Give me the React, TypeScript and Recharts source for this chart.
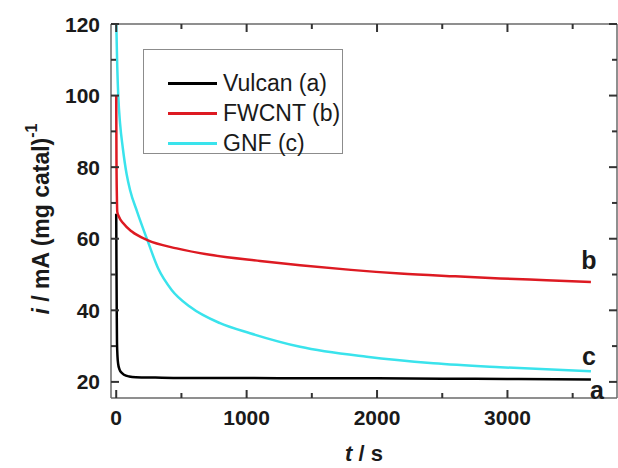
import React from 'react';
import { LineChart, Line, XAxis, YAxis, Legend, Label, LabelList } from 'recharts';

// chronoamperometry curves
const vulcanT = [0, 2, 4, 6, 10, 15, 25, 40, 60, 100, 150, 300, 500, 1000, 1500, 2000, 2500, 3000, 3640];
const vulcanI = [67, 52, 40, 31, 27, 25, 23.5, 22.6, 22, 21.5, 21.3, 21.2, 21.1, 21.1, 21.0, 21.0, 20.9, 20.8, 20.7];

const fwcntT = [0, 2, 5, 8, 20, 54, 120, 239, 464, 719, 1103, 1410, 1800, 2177, 2600, 2944, 3300, 3640];
const fwcntI = [100, 82, 72, 67.5, 66.2, 64.3, 62.0, 59.6, 57.3, 55.5, 53.8, 52.6, 51.3, 50.3, 49.5, 48.9, 48.4, 47.9];

const gnfT = [0, 8, 16, 30, 50, 80, 106, 160, 239, 323, 425, 566, 796, 1026, 1410, 1921, 2432, 2944, 3640];
const gnfI = [121, 108, 99.7, 92, 85.5, 78, 73.6, 67.6, 59.6, 51.6, 45.7, 41.0, 36.4, 33.6, 29.8, 27, 25.2, 24.1, 23.0];

const seriesNames = ['Vulcan (a)', 'FWCNT (b)', 'GNF (c)'];

const xTicks = [0, 500, 1000, 1500, 2000, 2500, 3000, 3500];
const yTicks = [20, 30, 40, 50, 60, 70, 80, 90, 100, 110, 120];

const toPoints = (ts: number[], vs: number[]) => ts.map((t, i) => ({ t, v: vs[i] }));

const vulcan = toPoints(vulcanT, vulcanI);
const fwcnt = toPoints(fwcntT, fwcntI);
const gnf = toPoints(gnfT, gnfI);

const FONT = '"Liberation Sans", Arial, sans-serif';
const FRAME = '#6a6a6a';
const TICK = '#333333';
const INK = '#1a1a1a';

const labelStyle = { fontFamily: FONT, fontSize: 21, fontWeight: 700, fill: INK };

// inward ticks, long at labelled values; props.x / props.y sit on the axis line (tickSize 0, tickMargin 0)
const makeTick = (side: 'left' | 'right' | 'top' | 'bottom', step: number, withLabel: boolean) => (props: any) => {
  const x = Number(props.x);
  const y = Number(props.y);
  const v = props.payload.value;
  const major = v % step === 0;
  const len = major ? 8 : 5;
  let d = '';
  if (side === 'left') d = `M${x},${y}H${x + len}`;
  else if (side === 'right') d = `M${x},${y}H${x - len}`;
  else if (side === 'bottom') d = `M${x},${y}V${y - len}`;
  else d = `M${x},${y}V${y + len}`;
  return (
    <g>
      <path d={d} stroke={TICK} strokeWidth={2} fill="none" />
      {withLabel && major && side === 'left' && (
        <text x={x - 11} y={y} textAnchor="end" dominantBaseline="central" style={labelStyle}>{v}</text>
      )}
      {withLabel && major && side === 'bottom' && (
        <text x={x} y={y + 27} textAnchor="middle" style={labelStyle}>{v}</text>
      )}
    </g>
  );
};

const LegendBox = (props: any) => {
  const { payload = [] } = props;
  const items = seriesNames.map((n) => payload.find((p: any) => p.value === n)).filter(Boolean);
  return (
    <div
      style={{
        width: 200,
        height: 105,
        boxSizing: 'border-box',
        border: '1.5px solid #8c8c8c',
        background: '#fff',
        position: 'relative',
      }}
    >
      {items.map((entry: any, i: number) => (
        <div
          key={entry.value}
          style={{
            position: 'absolute',
            left: 24,
            top: 33 + i * 30 - 14,
            height: 28,
            display: 'flex',
            alignItems: 'center',
          }}
        >
          <span style={{ display: 'inline-block', width: 49, height: 3, background: entry.color, marginRight: 6 }} />
          <span style={{ fontFamily: FONT, fontSize: 23, color: INK, whiteSpace: 'nowrap' }}>{entry.value}</span>
        </div>
      ))}
    </div>
  );
};

// letter drawn next to the last point of a curve
const endLabel = (letter: string, count: number, dx: number, dy: number) => (props: any) => {
  const { x, y, index } = props;
  if (index !== count - 1) return null;
  return (
    <text x={x + dx} y={y + dy} textAnchor="middle" dominantBaseline="central"
      style={{ fontFamily: FONT, fontSize: 25, fontWeight: 700, fill: INK }}>
      {letter}
    </text>
  );
};

const axisLine = { stroke: FRAME, strokeWidth: 1.5 };

export default function App() {
  return (
    <div style={{ position: 'absolute', left: 0, top: 0, width: 618, height: 468, background: '#fff' }}>
      <LineChart width={618} height={468} margin={{ top: 23, right: 0, bottom: 0, left: 0 }}>
        <XAxis
          type="number"
          dataKey="t"
          domain={[-40, 3840]}
          allowDataOverflow
          ticks={xTicks}
          interval={0}
          tick={makeTick('bottom', 1000, true)}
          tickLine={false}
          tickSize={0}
          tickMargin={0}
          height={70}
          axisLine={axisLine}
        >
          <Label
            content={(p: any) => {
              const vb = p.viewBox;
              return (
                <text x={vb.x + vb.width / 2} y={vb.y + 63} textAnchor="middle"
                  style={{ fontFamily: FONT, fontSize: 22, fontWeight: 700, fill: INK }}>
                  <tspan fontStyle="italic">t</tspan>
                  <tspan> / s</tspan>
                </text>
              );
            }}
          />
        </XAxis>
        {/* mirror axes for the closed frame; a zero-sized axis is not drawn, so they get 1px */}
        <XAxis
          xAxisId="top"
          orientation="top"
          type="number"
          dataKey="t"
          domain={[-40, 3840]}
          allowDataOverflow
          ticks={xTicks}
          interval={0}
          tick={makeTick('top', 1000, false)}
          tickLine={false}
          tickSize={0}
          tickMargin={0}
          height={1}
          axisLine={axisLine}
        />
        <YAxis
          type="number"
          domain={[15.5, 120]}
          allowDataOverflow
          ticks={yTicks}
          interval={0}
          tick={makeTick('left', 20, true)}
          tickLine={false}
          tickSize={0}
          tickMargin={0}
          width={111}
          axisLine={axisLine}
        >
          <Label
            content={(p: any) => {
              const vb = p.viewBox;
              const cx = vb.x + 41;
              const cy = vb.y + vb.height / 2 + 8;
              return (
                <text x={cx} y={cy} textAnchor="middle" dominantBaseline="central"
                  transform={`rotate(-90, ${cx}, ${cy})`}
                  style={{ fontFamily: FONT, fontSize: 23, fontWeight: 700, fill: INK }}>
                  <tspan fontStyle="italic">i</tspan>
                  <tspan> / mA (mg catal)</tspan>
                  <tspan fontSize={16} dy={-10}>-1</tspan>
                </text>
              );
            }}
          />
        </YAxis>
        <YAxis
          yAxisId="right"
          orientation="right"
          type="number"
          domain={[15.5, 120]}
          allowDataOverflow
          ticks={yTicks}
          interval={0}
          tick={makeTick('right', 20, false)}
          tickLine={false}
          tickSize={0}
          tickMargin={0}
          width={1}
          axisLine={axisLine}
        />
        <Legend
          layout="vertical"
          align="center"
          verticalAlign="middle"
          content={<LegendBox />}
          wrapperStyle={{ left: 143, top: 49, width: 200, height: 105 }}
        />
        <Line data={vulcan} dataKey="v" name="Vulcan (a)" type="monotone" stroke="#000000" strokeWidth={2.5}
          xAxisId="top" yAxisId="right" dot={false} isAnimationActive={false}>
          <LabelList dataKey="v" content={endLabel('a', vulcan.length, 6, 11)} />
        </Line>
        <Line data={gnf} dataKey="v" name="GNF (c)" type="monotone" stroke="#3ae3ec" strokeWidth={2.5}
          dot={false} isAnimationActive={false}>
          <LabelList dataKey="v" content={endLabel('c', gnf.length, -2, -15)} />
        </Line>
        <Line data={fwcnt} dataKey="v" name="FWCNT (b)" type="monotone" stroke="#dd1a22" strokeWidth={2.5}
          dot={false} isAnimationActive={false}>
          <LabelList dataKey="v" content={endLabel('b', fwcnt.length, -2, -22)} />
        </Line>
      </LineChart>
    </div>
  );
}
